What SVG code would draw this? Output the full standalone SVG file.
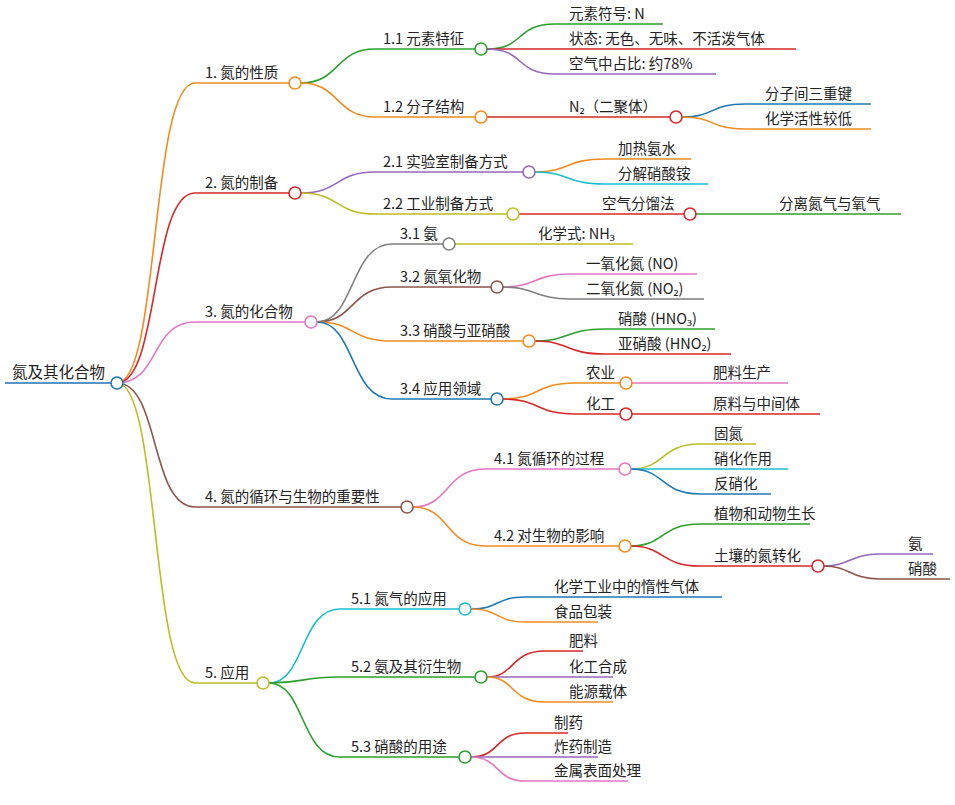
<svg xmlns="http://www.w3.org/2000/svg" width="955" height="805" viewBox="0 0 955 805">
<style>
text{font-family:"Noto Sans CJK SC","Noto Sans",sans-serif;font-size:14.5px;fill:#222}
path{fill:none;stroke-width:1.6}
circle{fill:#fff;stroke-width:1.6}
.o{stroke:#f28c1e}.r{stroke:#d62728}.p{stroke:#e377c2}.b{stroke:#8c564b}.y{stroke:#bcbd22}.g{stroke:#2ca02c}.v{stroke:#9467bd}.u{stroke:#1f77b4}.c{stroke:#17becf}.k{stroke:#7f7f7f}
</style>
<rect width="955" height="805" fill="#fff"/>
<g id="connectors">
<path d="M5 383H117" stroke="#1f6fb0" stroke-width="4"/>
<path class="o" d="M117 383C160 383 150 83 195 83H289"/>
<path class="r" d="M117 383C160 383 150 193 195 193H289"/>
<path class="p" d="M117 383C160 383 150 322 195 322H305"/>
<path class="b" d="M117 383C160 383 150 507 195 507H401"/>
<path class="y" d="M117 383C160 383 150 683 195 683H257"/>
<path class="g" d="M301 83C340 83 335 49 375 49H475"/>
<path class="o" d="M301 83C340 83 335 117 375 117H475"/>
<path class="g" d="M487 49C525 49 515 24 555 24H663"/>
<path class="r" d="M487 49H796"/>
<path class="v" d="M487 49C525 49 515 74 555 74H716"/>
<path class="r" d="M487 117H670"/>
<path class="u" d="M682 117C715 117 710 104 745 104H871"/>
<path class="o" d="M682 117C715 117 710 129 745 129H871"/>
<path class="v" d="M301 193C340 193 335 172 375 172H523"/>
<path class="y" d="M301 193C340 193 335 214 375 214H507"/>
<path class="o" d="M535 172C570 172 565 159 605 159H691"/>
<path class="c" d="M535 172C570 172 565 184 605 184H708"/>
<path class="r" d="M519 214H684"/>
<path class="g" d="M696 214H901"/>
<path class="k" d="M317 322C355 322 350 244 392 244H443"/>
<path class="b" d="M317 322C355 322 350 287 392 287H491"/>
<path class="o" d="M317 322C355 322 350 341 392 341H523"/>
<path class="u" d="M317 322C355 322 350 399 392 399H491"/>
<path class="y" d="M455 244H633"/>
<path class="p" d="M503 287C535 287 535 274 570 274H697"/>
<path class="k" d="M503 287C535 287 535 299 570 299H704"/>
<path class="g" d="M535 341C570 341 565 329 605 329H715"/>
<path class="r" d="M535 341C570 341 565 354 605 354H731"/>
<path class="o" d="M503 399C540 399 535 383 575 383H620"/>
<path class="r" d="M503 399C540 399 535 414 575 414H620"/>
<path class="p" d="M632 383H788"/>
<path class="r" d="M632 414H820"/>
<path class="p" d="M413 507C450 507 445 469 485 469H619"/>
<path class="o" d="M413 507C450 507 445 546 485 546H619"/>
<path class="y" d="M631 469C665 469 660 444 700 444H756"/>
<path class="c" d="M631 469H788"/>
<path class="u" d="M631 469C665 469 660 494 700 494H771"/>
<path class="g" d="M631 546C665 546 660 524 700 524H810"/>
<path class="r" d="M631 546C665 546 660 566 700 566H812"/>
<path class="v" d="M824 566C850 566 850 554 880 554H933"/>
<path class="b" d="M824 566C850 566 850 579 880 579H950"/>
<path class="c" d="M269 683C305 683 300 609 340 609H459"/>
<path class="g" d="M269 683C305 683 300 677 340 677H475"/>
<path class="g" d="M269 683C305 683 300 757 340 757H459"/>
<path class="u" d="M471 609C500 609 495 597 525 597H722"/>
<path class="o" d="M471 609C500 609 495 622 525 622H598"/>
<path class="r" d="M487 677C515 677 510 651 545 651H583"/>
<path class="v" d="M487 677H613"/>
<path class="o" d="M487 677C515 677 510 702 545 702H613"/>
<path class="r" d="M471 757C500 757 495 733 525 733H568"/>
<path class="v" d="M471 757H598"/>
<path class="p" d="M471 757C500 757 495 781 525 781H628"/>
</g>
<g id="root"><circle cx="117" cy="383" r="6" class="u"/><text x="12" y="378" style="font-size:15.5px">氮及其化合物</text></g>
<g id="n1"><circle cx="295" cy="83" r="6" class="o"/><text x="205" y="78">1. 氮的性质</text></g>
<g id="n2"><circle cx="295" cy="193" r="6" class="r"/><text x="205" y="188">2. 氮的制备</text></g>
<g id="n3"><circle cx="311" cy="322" r="6" class="p"/><text x="205" y="317">3. 氮的化合物</text></g>
<g id="n4"><circle cx="407" cy="507" r="6" class="b"/><text x="205" y="502">4. 氮的循环与生物的重要性</text></g>
<g id="n5"><circle cx="263" cy="683" r="6" class="y"/><text x="205" y="678">5. 应用</text></g>
<g id="n11"><circle cx="481" cy="49" r="6" class="g"/><text x="383" y="44">1.1 元素特征</text></g>
<g id="n12"><circle cx="481" cy="117" r="6" class="o"/><text x="383" y="112">1.2 分子结构</text></g>
<g id="l111"><text x="569" y="19">元素符号: N</text></g>
<g id="l112"><text x="569" y="44">状态: 无色、无味、不活泼气体</text></g>
<g id="l113"><text x="569" y="69">空气中占比: 约78%</text></g>
<g id="n121"><circle cx="676" cy="117" r="6" class="r"/><text x="569" y="112">N₂（二聚体）</text></g>
<g id="l1211"><text x="765" y="99">分子间三重键</text></g>
<g id="l1212"><text x="765" y="124">化学活性较低</text></g>
<g id="n21"><circle cx="529" cy="172" r="6" class="v"/><text x="383" y="167">2.1 实验室制备方式</text></g>
<g id="n22"><circle cx="513" cy="214" r="6" class="y"/><text x="383" y="209">2.2 工业制备方式</text></g>
<g id="l211"><text x="618" y="154">加热氨水</text></g>
<g id="l212"><text x="618" y="179">分解硝酸铵</text></g>
<g id="n221"><circle cx="690" cy="214" r="6" class="r"/><text x="602" y="209">空气分馏法</text></g>
<g id="l2211"><text x="779" y="209">分离氮气与氧气</text></g>
<g id="n31"><circle cx="449" cy="244" r="6" class="k"/><text x="400" y="239">3.1 氨</text></g>
<g id="l311"><text x="538" y="239">化学式: NH₃</text></g>
<g id="n32"><circle cx="497" cy="287" r="6" class="b"/><text x="400" y="282">3.2 氮氧化物</text></g>
<g id="l321"><text x="586" y="269">一氧化氮 (NO)</text></g>
<g id="l322"><text x="586" y="294">二氧化氮 (NO₂)</text></g>
<g id="n33"><circle cx="529" cy="341" r="6" class="o"/><text x="400" y="336">3.3 硝酸与亚硝酸</text></g>
<g id="l331"><text x="618" y="324">硝酸 (HNO₃)</text></g>
<g id="l332"><text x="618" y="349">亚硝酸 (HNO₂)</text></g>
<g id="n34"><circle cx="497" cy="399" r="6" class="u"/><text x="400" y="394">3.4 应用领域</text></g>
<g id="n341"><circle cx="626" cy="383" r="6" class="o"/><text x="586" y="378">农业</text></g>
<g id="n342"><circle cx="626" cy="414" r="6" class="r"/><text x="586" y="409">化工</text></g>
<g id="l3411"><text x="713" y="378">肥料生产</text></g>
<g id="l3421"><text x="713" y="409">原料与中间体</text></g>
<g id="n41"><circle cx="625" cy="469" r="6" class="p"/><text x="494" y="464">4.1 氮循环的过程</text></g>
<g id="l411"><text x="714" y="439">固氮</text></g>
<g id="l412"><text x="714" y="464">硝化作用</text></g>
<g id="l413"><text x="714" y="489">反硝化</text></g>
<g id="n42"><circle cx="625" cy="546" r="6" class="o"/><text x="494" y="541">4.2 对生物的影响</text></g>
<g id="l421"><text x="714" y="519">植物和动物生长</text></g>
<g id="n422"><circle cx="818" cy="566" r="6" class="r"/><text x="714" y="561">土壤的氮转化</text></g>
<g id="l4221"><text x="908" y="549">氨</text></g>
<g id="l4222"><text x="908" y="574">硝酸</text></g>
<g id="n51"><circle cx="465" cy="609" r="6" class="c"/><text x="351" y="604">5.1 氮气的应用</text></g>
<g id="l511"><text x="554" y="592">化学工业中的惰性气体</text></g>
<g id="l512"><text x="554" y="617">食品包装</text></g>
<g id="n52"><circle cx="481" cy="677" r="6" class="g"/><text x="351" y="672">5.2 氨及其衍生物</text></g>
<g id="l521"><text x="569" y="646">肥料</text></g>
<g id="l522"><text x="569" y="672">化工合成</text></g>
<g id="l523"><text x="569" y="697">能源载体</text></g>
<g id="n53"><circle cx="465" cy="757" r="6" class="g"/><text x="351" y="752">5.3 硝酸的用途</text></g>
<g id="l531"><text x="554" y="728">制药</text></g>
<g id="l532"><text x="554" y="752">炸药制造</text></g>
<g id="l533"><text x="554" y="776">金属表面处理</text></g>
</svg>
